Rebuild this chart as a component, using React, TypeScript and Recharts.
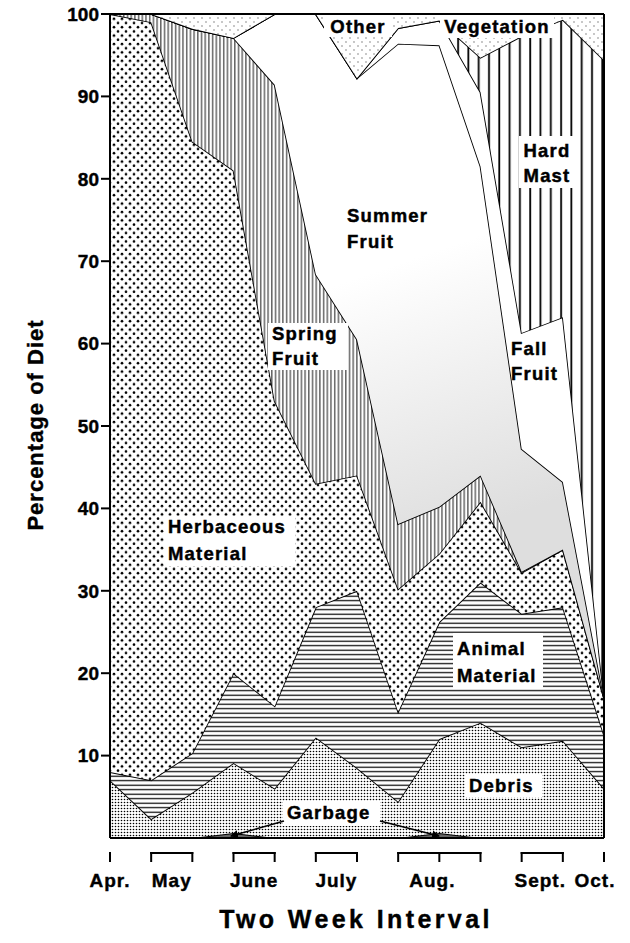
import { AreaChart, Area, XAxis, YAxis, ReferenceLine } from "recharts";

// two-week intervals, April through October
const intervals = ["1", "2", "3", "4", "5", "6", "7", "8", "9", "10", "11", "12", "13"];

// percentage of diet per food class (stacked bottom to top)
const garbage = [0, 0, 0, 0.6, 0, 0, 0, 0, 0.6, 0, 0, 0, 0];
const debris = [7, 2.3, 5.5, 8.5, 6, 12.2, 8.5, 4.4, 11.4, 14, 11, 11.8, 6];
const animalMaterial = [1, 4.7, 4.8, 10.9, 10, 15.8, 21.5, 10.9, 14.2, 17, 16.2, 16.2, 6.5];
const herbaceousMaterial = [92, 92, 74.2, 61, 37, 15, 14, 14.9, 8.3, 9.8, 5, 7, 4.5];
const springFruit = [0, 1, 13.7, 16.1, 38.4, 25.4, 16.5, 7.9, 5.7, 3.2, 0.1, 0, 0];
const summerFruit = [0, 0, 0, 0, 8.6, 31.6, 31.7, 58.3, 56, 37.5, 14.9, 8.2, 0];
const fallFruit = [0, 0, 0, 0, 0, 0, 0, 1.9, 3, 9, 14.1, 20, 0];
const hardMast = [0, 0, 0, 0, 0, 0, 0, 0, 0, 4.2, 36, 36.1, 77.4];
const otherVegetation = [0, 0, 1.8, 2.9, 0, 0, 7.8, 1.7, 0.8, 5.3, 2.7, 0.7, 5.6];

const yTicks = [10, 20, 30, 40, 50, 60, 70, 80, 90, 100];

const monthLabels = ["Apr.", "May", "June", "July", "Aug.", "Sept.", "Oct."];
const monthFirst = [0, 1, 3, 5, 7, 10, 12];
const monthLast = [0, 2, 4, 6, 9, 11, 12];
const monthNudge = [0, 0, 0, 0, -7, -2, -9];

const data = intervals.map((interval, i) => ({
  interval,
  garbage: garbage[i],
  debris: debris[i],
  animal: animalMaterial[i],
  herbaceous: herbaceousMaterial[i],
  spring: springFruit[i],
  summer: summerFruit[i],
  fall: fallFruit[i],
  hardMast: hardMast[i],
  other: otherVegetation[i],
}));

const W = 630;
const H = 943;
const PLOT_LEFT = 110;
const PLOT_RIGHT = 604;
const PLOT_BOTTOM = 838;
const STEP = (PLOT_RIGHT - PLOT_LEFT) / (intervals.length - 1);
const FONT = "'Liberation Sans', Arial, Helvetica, sans-serif";

function MonthTick(props: any) {
  const { x, y, payload } = props;
  const i = payload.index;
  const g = monthFirst.indexOf(i);
  const top = y + 15;
  return (
    <g>
      <line x1={x} x2={x} y1={top - 1} y2={top + 9} stroke="#000" strokeWidth={2} />
      {g >= 0 && monthLast[g] > i && (
        <line x1={x - 1} x2={x + (monthLast[g] - i) * STEP + 1} y1={top} y2={top} stroke="#000" strokeWidth={2} />
      )}
      {g >= 0 && (
        <text
          x={x + ((monthLast[g] - i) * STEP) / 2 + monthNudge[g]}
          y={y + 49}
          textAnchor="middle"
          fontFamily={FONT}
          fontWeight="bold"
          fontSize={19}
          letterSpacing={1}
          fill="#000"
          stroke="#000"
          strokeWidth={0.4}
        >
          {monthLabels[g]}
        </text>
      )}
    </g>
  );
}

type Note = { lines: string[]; x: number; y: number[]; anchor?: "start" | "middle"; box?: [number, number, number, number] };

const notes: Note[] = [
  { lines: ["Other"], x: 358, y: [33], anchor: "middle", box: [324, 15, 68, 22] },
  { lines: ["Vegetation"], x: 497, y: [33], anchor: "middle", box: [440, 15, 114, 23] },
  { lines: ["Hard", "Mast"], x: 547, y: [157, 182], anchor: "middle", box: [519, 136, 57, 52] },
  { lines: ["Summer", "Fruit"], x: 347, y: [222, 248] },
  { lines: ["Spring", "Fruit"], x: 272, y: [340, 365], box: [268, 323, 80, 47] },
  { lines: ["Fall", "Fruit"], x: 511, y: [355, 380] },
  { lines: ["Herbaceous", "Material"], x: 168, y: [533, 560], box: [164, 516, 131, 50] },
  { lines: ["Animal", "Material"], x: 457, y: [655, 682], box: [453, 633, 90, 55] },
  { lines: ["Debris"], x: 469, y: [792], box: [465, 774, 77, 23] },
  { lines: ["Garbage"], x: 287, y: [819], box: [283, 801, 97, 25] },
];

function Overlay() {
  return (
    <svg width={W} height={H} style={{ position: "absolute", left: 0, top: 0, pointerEvents: "none" }}>
      <defs>
        <marker id="arrowHead" markerWidth="8" markerHeight="8" refX="7" refY="4" orient="auto" markerUnits="userSpaceOnUse">
          <path d="M0,0 L8,4 L0,8 z" fill="#000" />
        </marker>
      </defs>
      {notes.map((n, k) => (
        <g key={k}>
          {n.box && <rect x={n.box[0]} y={n.box[1]} width={n.box[2]} height={n.box[3]} fill="#fff" />}
          {n.lines.map((t, j) => (
            <text
              key={j}
              x={n.x}
              y={n.y[j]}
              textAnchor={n.anchor ?? "start"}
              fontFamily={FONT}
              fontWeight="bold"
              fontSize={18.5}
              letterSpacing={1.2}
              fill="#000"
              stroke="#000"
              strokeWidth={0.45}
            >
              {t}
            </text>
          ))}
        </g>
      ))}
      <line x1={284} y1={821} x2={231} y2={836} stroke="#000" strokeWidth={1.5} markerEnd="url(#arrowHead)" />
      <line x1={380} y1={821} x2={439} y2={836} stroke="#000" strokeWidth={1.5} markerEnd="url(#arrowHead)" />
      <text
        transform="translate(43,425) rotate(-90)"
        textAnchor="middle"
        fontFamily={FONT}
        fontWeight="bold"
        fontSize={22}
        letterSpacing={1}
        fill="#000"
        stroke="#000"
        strokeWidth={0.4}
      >
        Percentage of Diet
      </text>
      <text
        x={356}
        y={928}
        textAnchor="middle"
        fontFamily={FONT}
        fontWeight="bold"
        fontSize={25}
        letterSpacing={3.4}
        fill="#000"
        stroke="#000"
        strokeWidth={0.4}
      >
        Two Week Interval
      </text>
    </svg>
  );
}

export default function App() {
  const line = { stroke: "#000", strokeWidth: 1.8 };
  return (
    <div style={{ position: "absolute", left: 0, top: 0, width: W, height: H, background: "#fff" }}>
      <AreaChart width={W} height={H} data={data} margin={{ top: 14, right: W - PLOT_RIGHT, bottom: 0, left: 0 }}>
        <defs>
          <pattern id="debrisPat" width="3" height="3" patternUnits="userSpaceOnUse">
            <rect width="3" height="3" fill="#fff" />
            <circle cx="1.5" cy="1.5" r="0.8" fill="#000" />
          </pattern>
          <pattern id="animalPat" width="6" height="4.5" patternUnits="userSpaceOnUse">
            <rect width="6" height="4.5" fill="#fff" />
            <rect y="1.6" width="6" height="1.2" fill="#000" />
          </pattern>
          <pattern id="herbPat" width="8" height="8.4" patternUnits="userSpaceOnUse">
            <rect width="8" height="8.4" fill="#fff" />
            <circle cx="2" cy="2" r="1.35" fill="#000" />
            <circle cx="6" cy="6.2" r="1.35" fill="#000" />
          </pattern>
          <pattern id="springPat" width="3.7" height="6" patternUnits="userSpaceOnUse">
            <rect width="3.7" height="6" fill="#fff" />
            <rect x="1.3" width="0.9" height="6" fill="#000" />
          </pattern>
          <pattern id="hardPat" width="10.3" height="6" patternUnits="userSpaceOnUse">
            <rect width="10.3" height="6" fill="#fff" />
            <rect x="4" width="1.8" height="6" fill="#000" />
          </pattern>
          <pattern id="otherPat" width="8" height="8" patternUnits="userSpaceOnUse">
            <rect width="8" height="8" fill="#fff" />
            <circle cx="2" cy="2" r="0.7" fill="#666" />
            <circle cx="6" cy="6" r="0.7" fill="#666" />
          </pattern>
          <linearGradient id="summerGrad" gradientUnits="userSpaceOnUse" x1="380" y1="270" x2="470" y2="530">
            <stop offset="0" stopColor="#fff" />
            <stop offset="1" stopColor="#dedede" />
          </linearGradient>
        </defs>
        <XAxis
          dataKey="interval"
          axisLine={{ stroke: "#000", strokeWidth: 2 }}
          tickLine={false}
          tickSize={0}
          tickMargin={0}
          interval={0}
          height={H - PLOT_BOTTOM}
          tick={<MonthTick />}
        />
        <YAxis
          domain={[0, 100]}
          ticks={yTicks}
          width={PLOT_LEFT}
          axisLine={{ stroke: "#000", strokeWidth: 2 }}
          tickLine={{ stroke: "#000", strokeWidth: 2 }}
          tickSize={9}
          tickMargin={2}
          tick={{ fill: "#000", stroke: "#000", strokeWidth: 0.4, fontSize: 19, fontWeight: "bold", fontFamily: FONT }}
        />
        <Area type="linear" dataKey="garbage" stackId="1" fill="#000" {...line} isAnimationActive={false} dot={false} activeDot={false} />
        <Area type="linear" dataKey="debris" stackId="1" fill="url(#debrisPat)" fillOpacity={1} {...line} isAnimationActive={false} dot={false} activeDot={false} />
        <Area type="linear" dataKey="animal" stackId="1" fill="url(#animalPat)" fillOpacity={1} {...line} isAnimationActive={false} dot={false} activeDot={false} />
        <Area type="linear" dataKey="herbaceous" stackId="1" fill="url(#herbPat)" fillOpacity={1} {...line} isAnimationActive={false} dot={false} activeDot={false} />
        <Area type="linear" dataKey="spring" stackId="1" fill="url(#springPat)" fillOpacity={1} {...line} isAnimationActive={false} dot={false} activeDot={false} />
        <Area type="linear" dataKey="summer" stackId="1" fill="url(#summerGrad)" fillOpacity={1} {...line} isAnimationActive={false} dot={false} activeDot={false} />
        <Area type="linear" dataKey="fall" stackId="1" fill="#fff" fillOpacity={1} {...line} isAnimationActive={false} dot={false} activeDot={false} />
        <Area type="linear" dataKey="hardMast" stackId="1" fill="url(#hardPat)" fillOpacity={1} {...line} isAnimationActive={false} dot={false} activeDot={false} />
        <Area type="linear" dataKey="other" stackId="1" fill="url(#otherPat)" fillOpacity={1} {...line} isAnimationActive={false} dot={false} activeDot={false} />
        <ReferenceLine x="13" stroke="#000" strokeWidth={2} />
      </AreaChart>
      <Overlay />
    </div>
  );
}
